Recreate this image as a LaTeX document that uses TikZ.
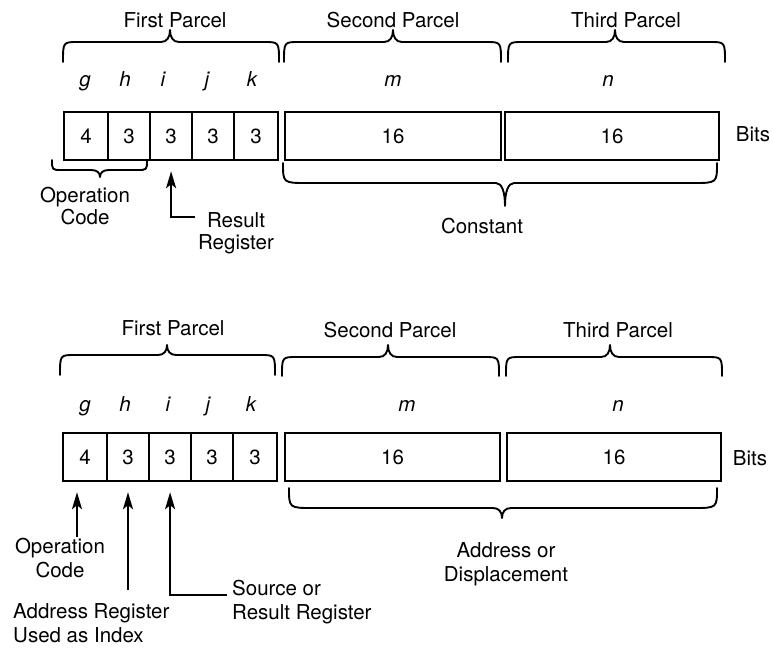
\documentclass[tikz,border=0pt]{standalone}
\usepackage{fontspec}
\setmainfont{TeX Gyre Heros}
\usetikzlibrary{arrows.meta,calc}
\newcommand\lbl{\fontsize{20.5}{22}\selectfont}
\newcommand\lblb{\fontsize{20.5}{24}\selectfont}
% #1 x-left, #2 x-right, #3 x-tip, #4 y-flat, #5 y-ends, #6 y-tip, #7 end radius
\newcommand\PBrace[7]{\draw[brc] (#1,#5) .. controls (#1,#4) .. ({#1+#7},#4) -- ({#3-9},#4) .. controls ({#3-3},#4) and (#3,{#4+0.4*(#6-#4)}) .. (#3,#6) .. controls (#3,{#4+0.4*(#6-#4)}) and ({#3+3},#4) .. ({#3+9},#4) -- ({#2-#7},#4) .. controls (#2,#4) .. (#2,#5);}
\begin{document}
\begin{tikzpicture}[x=1pt,y=-1pt,
  cell/.style={draw, line width=2.2pt, inner sep=0pt, minimum height=48pt, anchor=north west, font=\lbl},
  lab/.style={inner sep=0pt, font=\lbl, anchor=base},
  mlab/.style={inner sep=0pt, font=\lbl, align=center, anchor=north},
  mlabb/.style={inner sep=0pt, font=\lblb, align=center, anchor=north},
  brc/.style={line width=1.9pt, line cap=round, line join=round},
  arr/.style={line width=2.3pt, -{Stealth[length=17pt,width=10pt,inset=4pt]}, shorten >=10pt}]
\useasboundingbox (0,0) rectangle (773,648);
% ================= top diagram =================
\node[cell, minimum width=44pt] (t1) at (63,111) {4};
\node[cell, minimum width=42pt] (t2) at (107,111) {3};
\node[cell, minimum width=42pt] (t3) at (149,111) {3};
\node[cell, minimum width=42pt] (t4) at (191,111) {3};
\node[cell, minimum width=44pt] (t5) at (233,111) {3};
\node[cell, minimum width=216pt] (t6) at (284,111) {16};
\node[cell, minimum width=214pt] (t7) at (504,111) {16};
\node[lab] (tbits) at (753,141) {Bits};
\node[lab] (tfp) at (175,27) {First Parcel};
\node[lab] (tsp) at (393,27) {Second Parcel};
\node[lab] (ttp) at (626,27) {Third Parcel};
\node[lab] (tg) at (85,86) {\itshape g};
\node[lab] (th) at (125,86) {\itshape h};
\node[lab] (ti) at (163,86) {\itshape i};
\node[lab] (tj) at (207,86) {\itshape j};
\node[lab] (tk) at (252,86) {\itshape k};
\node[lab] (tm) at (393,86) {\itshape m};
\node[lab] (tn) at (608,86) {\itshape n};
\PBrace{63}{279}{170}{42}{62}{30}{15}
\PBrace{284}{501}{393}{42}{62}{30}{15}
\PBrace{508}{725}{615}{42}{62}{30}{15}
\PBrace{52}{147}{100}{170}{160}{177}{10}
\PBrace{283}{717}{505}{183}{163}{206}{24}
\node[mlab] (toc) at (85,187) {Operation\\Code};
\node[mlab] (trr) at (236,212) {Result\\Register};
\node[lab] (tcon) at (482,233) {Constant};
\coordinate (trc) at (195,217);
\draw[arr] (trc) -| (t3);
% ================= bottom diagram =================
\node[cell, minimum width=44pt] (b1) at (62,432) {4};
\node[cell, minimum width=42pt] (b2) at (106,432) {3};
\node[cell, minimum width=42pt] (b3) at (148,432) {3};
\node[cell, minimum width=42pt] (b4) at (190,432) {3};
\node[cell, minimum width=44pt] (b5) at (232,432) {3};
\node[cell, minimum width=215pt] (b6) at (284,432) {16};
\node[cell, minimum width=214pt] (b7) at (506,432) {16};
\node[lab] (bbits) at (750,465) {Bits};
\node[lab] (bfp) at (173,335) {First Parcel};
\node[lab] (bsp) at (390,337) {Second Parcel};
\node[lab] (btp) at (618,337) {Third Parcel};
\node[lab] (bg) at (85,411) {\itshape g};
\node[lab] (bh) at (125,411) {\itshape h};
\node[lab] (bi) at (168,411) {\itshape i};
\node[lab] (bj) at (208,411) {\itshape j};
\node[lab] (bk) at (251,411) {\itshape k};
\node[lab] (bm) at (407,411) {\itshape m};
\node[lab] (bn) at (618,411) {\itshape n};
\PBrace{60}{275}{167}{355}{375}{345}{15}
\PBrace{282}{499}{388}{357}{376}{345}{15}
\PBrace{506}{722}{610}{357}{376}{345}{15}
\PBrace{289}{717}{502}{508}{488}{518}{24}
\node[mlabb] (boc) at (60,538) {Operation\\Code};
\node[mlabb, align=left, anchor=north west] (bar) at (13,603) {Address Register\\Used as Index};
\node[mlabb, align=left, anchor=north west] (bsr) at (232,580) {Source or\\Result Register};
\node[mlabb] (bad) at (506,542) {Address or\\Displacement};
\coordinate (boc1) at (77,537);
\coordinate (bar1) at (128,590);
\coordinate (bsr1) at (227,595);
\draw[arr] (boc1) -- (boc1 |- b1.south);
\draw[arr] (bar1) -- (bar1 |- b2.south);
\draw[arr] (bsr1) -| (b3);
\end{tikzpicture}
\end{document}
